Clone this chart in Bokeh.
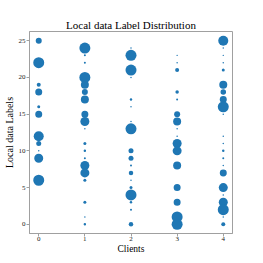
from bokeh.plotting import figure
from bokeh.models import Range1d, ColumnDataSource, FixedTicker
from bokeh.embed import file_html
from bokeh.resources import INLINE
import numpy as np

# ---- data ----
clients = [0, 1, 2, 3, 4]
y_ticks = [0, 5, 10, 15, 20, 25]

labels_c0 = [25, 22, 19, 18, 16, 15, 12, 11, 10, 9, 6]
counts_c0 = [360, 1210, 160, 490, 90, 490, 1000, 250, 22, 810, 1210]

labels_c1 = [24, 23, 22, 20, 19, 18, 17, 15, 14, 13, 11, 10, 9, 8, 7, 6, 3, 1, 0]
counts_c1 = [1210, 40, 40, 1210, 640, 360, 640, 490, 810, 22, 90, 62, 40, 810, 810, 90, 90, 22, 62]

labels_c2 = [24, 23, 21, 20, 17, 16, 14, 13, 10, 9, 8, 7, 6, 5, 4, 3, 2, 0]
counts_c2 = [22, 1210, 1210, 22, 62, 22, 22, 1210, 250, 250, 40, 202, 22, 90, 1210, 62, 40, 202]

labels_c3 = [23, 22, 21, 18, 17, 15, 14, 13, 12, 11, 10, 8, 5, 3, 1, 0]
counts_c3 = [22, 22, 160, 122, 40, 360, 640, 22, 22, 810, 810, 640, 490, 490, 1210, 1210]

labels_c4 = [25, 24, 23, 22, 21, 19, 18, 17, 16, 15, 12, 11, 10, 9, 8, 7, 5, 4, 3, 2, 1, 0]
counts_c4 = [1000, 22, 22, 22, 90, 640, 302, 490, 1210, 22, 22, 22, 62, 40, 22, 490, 810, 22, 810, 1210, 22, 160]

all_labels = [labels_c0, labels_c1, labels_c2, labels_c3, labels_c4]
all_counts = [counts_c0, counts_c1, counts_c2, counts_c3, counts_c4]

xs, ys, cs = [], [], []
for c, labs, cnts in zip(clients, all_labels, all_counts):
    xs += [c] * len(labs)
    ys += labs
    cs += cnts
sizes = [float(np.sqrt(v / 10.0)) for v in cs]
src = ColumnDataSource(dict(client=xs, label=ys, count=cs, size=sizes))

SERIF = "Liberation Serif"
GRAY = "#a0a0a0"

p = figure(frame_width=203, frame_height=202, output_backend="svg", toolbar_location=None,
           x_range=Range1d(-0.2, 4.2), y_range=Range1d(-1.25, 26.25),
           title="Local data Label Distribution",
           min_border_left=28, min_border_right=8, min_border_top=31, min_border_bottom=12)

p.scatter("client", "label", size="size", source=src, fill_color="#1f77b4", line_color=None)

p.title.text_font = SERIF
p.title.text_font_size = "11px"
p.title.text_font_style = "normal"
p.title.align = "center"
p.title.text_color = "#000000"
p.title.standoff = 2

p.xaxis.ticker = FixedTicker(ticks=clients)
p.yaxis.ticker = FixedTicker(ticks=y_ticks)
p.xaxis.axis_label = "Clients"
p.yaxis.axis_label = "Local data Labels"
for ax in (p.xaxis, p.yaxis):
    ax.axis_line_color = GRAY
    ax.major_tick_line_color = GRAY
    ax.minor_tick_line_color = None
    ax.major_tick_out = 3
    ax.major_tick_in = 0
    ax.major_label_text_font = SERIF
    ax.major_label_text_font_size = "7px"
    ax.major_label_text_color = "#222222"
    ax.major_label_standoff = 1
    ax.axis_label_text_font = SERIF
    ax.axis_label_text_font_size = "10px"
    ax.axis_label_text_font_style = "normal"
    ax.axis_label_text_color = "#000000"
    ax.axis_label_standoff = 1

p.xaxis.major_label_standoff = 0
p.xaxis.axis_label_standoff = 0
p.xaxis.axis_label_text_font_size = "9.5px"

p.grid.visible = False
p.outline_line_color = GRAY
p.outline_line_width = 1

open("out.html", "w").write(file_html(p, INLINE))
